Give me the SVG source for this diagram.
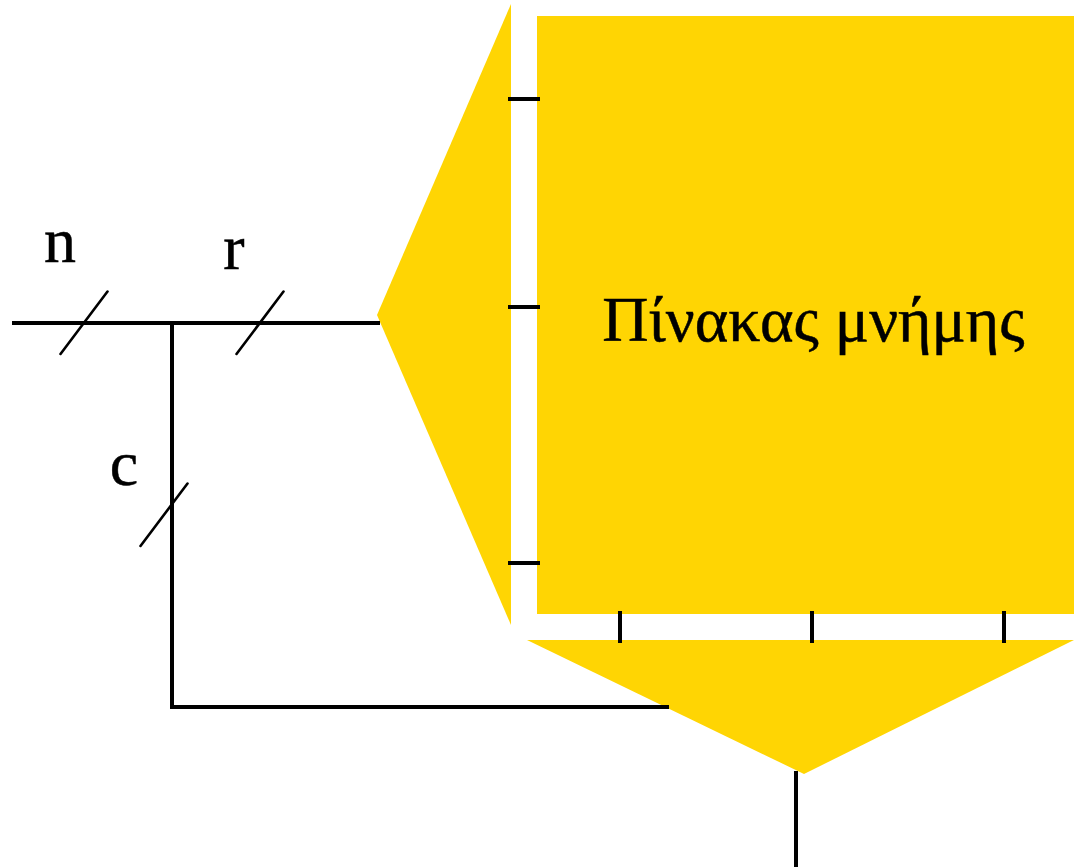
<svg xmlns="http://www.w3.org/2000/svg" width="1074" height="867" viewBox="0 0 1074 867">
<style>
.f{fill:#ffd503}
.w{fill:none;stroke:#000;stroke-width:4}
.s{fill:none;stroke:#000;stroke-width:2.6;stroke-linecap:round}
text{font-family:"Liberation Serif",serif;fill:#000;stroke:#000;stroke-width:.5;font-size:64px}
</style>
<rect width="1074" height="867" fill="#fff"/>
<g id="decoder-row"><polygon class="f" points="511,4 511,625 377,315"/></g>
<g id="memory-array"><rect class="f" x="537" y="16" width="537" height="598"/><text x="813.5" y="341" text-anchor="middle">Πίνακας μνήμης</text></g>
<g id="decoder-col"><polygon class="f" points="527,640 1074,640 804,774"/></g>
<g id="connectors">
<path class="w" d="M12 323H380M172 323V707H669M796 771V867"/>
<path class="w" d="M508 99H540M508 307H540M508 563H540M620 611V643M812 611V643M1004 611V643"/>
<path class="s" d="M60.500 354L107.500 291.500M236.500 354L283.500 291.500M140.500 546L187.500 483.500"/>
</g>
<g id="label-n"><text x="60" y="262" text-anchor="middle">n</text></g>
<g id="label-r"><text x="234" y="269" text-anchor="middle">r</text></g>
<g id="label-c"><text x="124" y="485" text-anchor="middle">c</text></g>
</svg>
